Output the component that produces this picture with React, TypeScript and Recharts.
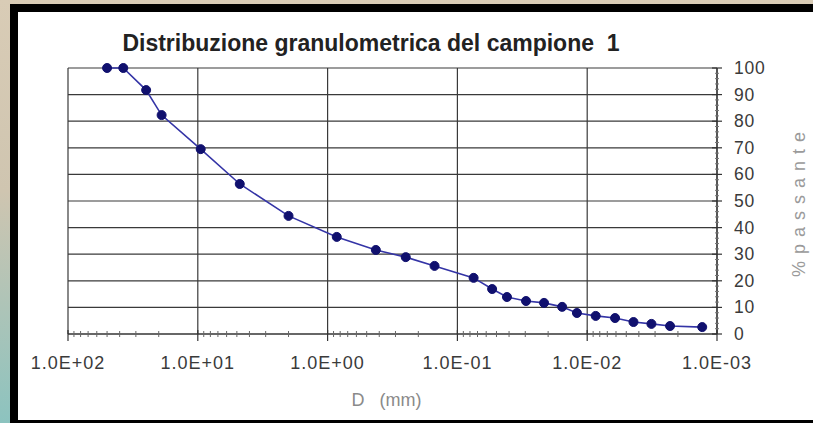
import { LineChart, Line, XAxis, YAxis, CartesianGrid, Label } from 'recharts';

// sieve + hydrometer results (D in mm, % passing)
const diametersMm = [
  50, 37.5, 25, 19, 9.5, 4.75, 2, 0.85, 0.425, 0.25, 0.15, 0.075,
  0.054, 0.0415, 0.0296, 0.0215, 0.0156, 0.012, 0.0086, 0.0061, 0.0044, 0.0032, 0.0023, 0.0013,
];
const passingPct = [
  100, 100, 91.7, 82.3, 69.5, 56.4, 44.4, 36.5, 31.6, 28.9, 25.6, 21.1,
  16.9, 13.9, 12.4, 11.7, 10.2, 7.9, 6.8, 6.0, 4.5, 3.8, 3.0, 2.6,
];

const decadeTicks = [100, 10, 1, 0.1, 0.01, 0.001];
const decadeLabels = ['1.0E+02', '1.0E+01', '1.0E+00', '1.0E-01', '1.0E-02', '1.0E-03'];
const minorSteps = [2, 3, 4, 5, 6, 7, 8, 9];
const percentTicks = [0, 10, 20, 30, 40, 50, 60, 70, 80, 90, 100];

const data = diametersMm.map((d, i) => ({ d, passing: passingPct[i] }));

// all log ticks: majors + 2..9 within each decade
const xTicks = [
  ...decadeTicks,
  ...decadeTicks.slice(1).flatMap((base) => minorSteps.map((m) => +(base * m).toPrecision(3))),
];
const yTicks = Array.from({ length: 51 }, (_, i) => i * 2);

const font = 'Liberation Sans, Arial, sans-serif';

const XTick = (props: any) => {
  const { x, y, payload } = props;
  const idx = decadeTicks.indexOf(payload.value);
  if (idx < 0) {
    return <line x1={x} x2={x} y1={y - 3} y2={y + 3} stroke="#666" strokeWidth={1} />;
  }
  return (
    <g>
      <line x1={x} x2={x} y1={y - 4} y2={y + 7} stroke="#333" strokeWidth={1.2} />
      <text x={x} y={y + 35} textAnchor="middle" fontSize={18} letterSpacing={1} fill="#3a3a3a" fontFamily={font}>
        {decadeLabels[idx]}
      </text>
    </g>
  );
};

const YTick = (props: any) => {
  const { x, y, payload } = props;
  const major = percentTicks.includes(payload.value);
  if (!major) {
    return <line x1={x - 2} x2={x + 2} y1={y} y2={y} stroke="#777" strokeWidth={1} />;
  }
  return (
    <g>
      <line x1={x - 5} x2={x + 5} y1={y} y2={y} stroke="#333" strokeWidth={1.2} />
      <text x={x + 17} y={y + 6} textAnchor="start" fontSize={17.5} letterSpacing={0.8} fill="#3a3a3a" fontFamily={font}>
        {payload.value}
      </text>
    </g>
  );
};

const XTitle = (props: any) => {
  const { x, y, width, height } = props.viewBox;
  return (
    <text x={x + width / 2 - 6} y={y + height + 32} textAnchor="middle" fontSize={18} fill="#8a8a8a" fontFamily={font}>
      {'D\u00a0\u00a0\u00a0(mm)'}
    </text>
  );
};

const YTitle = (props: any) => {
  const { x, y, width, height } = props.viewBox;
  const cx = x + width + 38;
  const cy = y + height / 2;
  return (
    <text
      x={cx}
      y={cy}
      transform={`rotate(-90 ${cx} ${cy})`}
      textAnchor="middle"
      fontSize={18}
      letterSpacing={7}
      fill="#9a9a9a"
      fontFamily={font}
    >
      %passante
    </text>
  );
};

export default function App() {
  return (
    <div
      style={{
        position: 'fixed',
        left: 0,
        top: 0,
        width: 813,
        height: 423,
        overflow: 'hidden',
        background: 'linear-gradient(to bottom, #d9ccb6 0%, #cfc5b0 45%, #8cc3bf 100%)',
      }}
    >
      <style>{'html, body { margin: 0; overflow: hidden; background: #fff; }'}</style>
      <div style={{ position: 'absolute', left: 10, top: 4, width: 803, height: 419, background: '#000' }} />
      <div style={{ position: 'absolute', left: 18, top: 12, width: 795, height: 408, background: '#fff' }} />
      <div
        style={{
          position: 'absolute',
          left: 0,
          width: 742,
          top: 30,
          textAlign: 'center',
          fontFamily: font,
          fontWeight: 'bold',
          fontSize: 23,
          color: '#222',
          whiteSpace: 'pre',
        }}
      >
        {'Distribuzione granulometrica del campione  1'}
      </div>
      <div style={{ position: 'absolute', left: 0, top: 0 }}>
        <LineChart width={813} height={423} data={data} margin={{ top: 68, right: 46, bottom: 49, left: 68 }}>
          <CartesianGrid
            stroke="#3a3a3a"
            strokeWidth={1.2}
            horizontalValues={percentTicks}
            verticalValues={decadeTicks}
          />
          <XAxis
            dataKey="d"
            type="number"
            scale="log"
            domain={[0.001, 100]}
            reversed
            allowDataOverflow
            ticks={xTicks}
            interval={0}
            tick={<XTick />}
            tickLine={false}
            tickSize={0}
            tickMargin={0}
            axisLine={{ stroke: '#333', strokeWidth: 1.2 }}
            height={40}
          >
            <Label content={<XTitle />} />
          </XAxis>
          <YAxis
            orientation="right"
            type="number"
            domain={[0, 100]}
            ticks={yTicks}
            interval={0}
            tick={<YTick />}
            tickLine={false}
            tickSize={0}
            tickMargin={0}
            axisLine={{ stroke: '#333', strokeWidth: 1.2 }}
            width={50}
          >
            <Label content={<YTitle />} />
          </YAxis>
          <Line
            type="linear"
            dataKey="passing"
            stroke="#3434a6"
            strokeWidth={1.6}
            dot={{ r: 4.5, fill: '#10106e', stroke: '#10106e', strokeWidth: 1 }}
            isAnimationActive={false}
          />
        </LineChart>
      </div>
    </div>
  );
}
